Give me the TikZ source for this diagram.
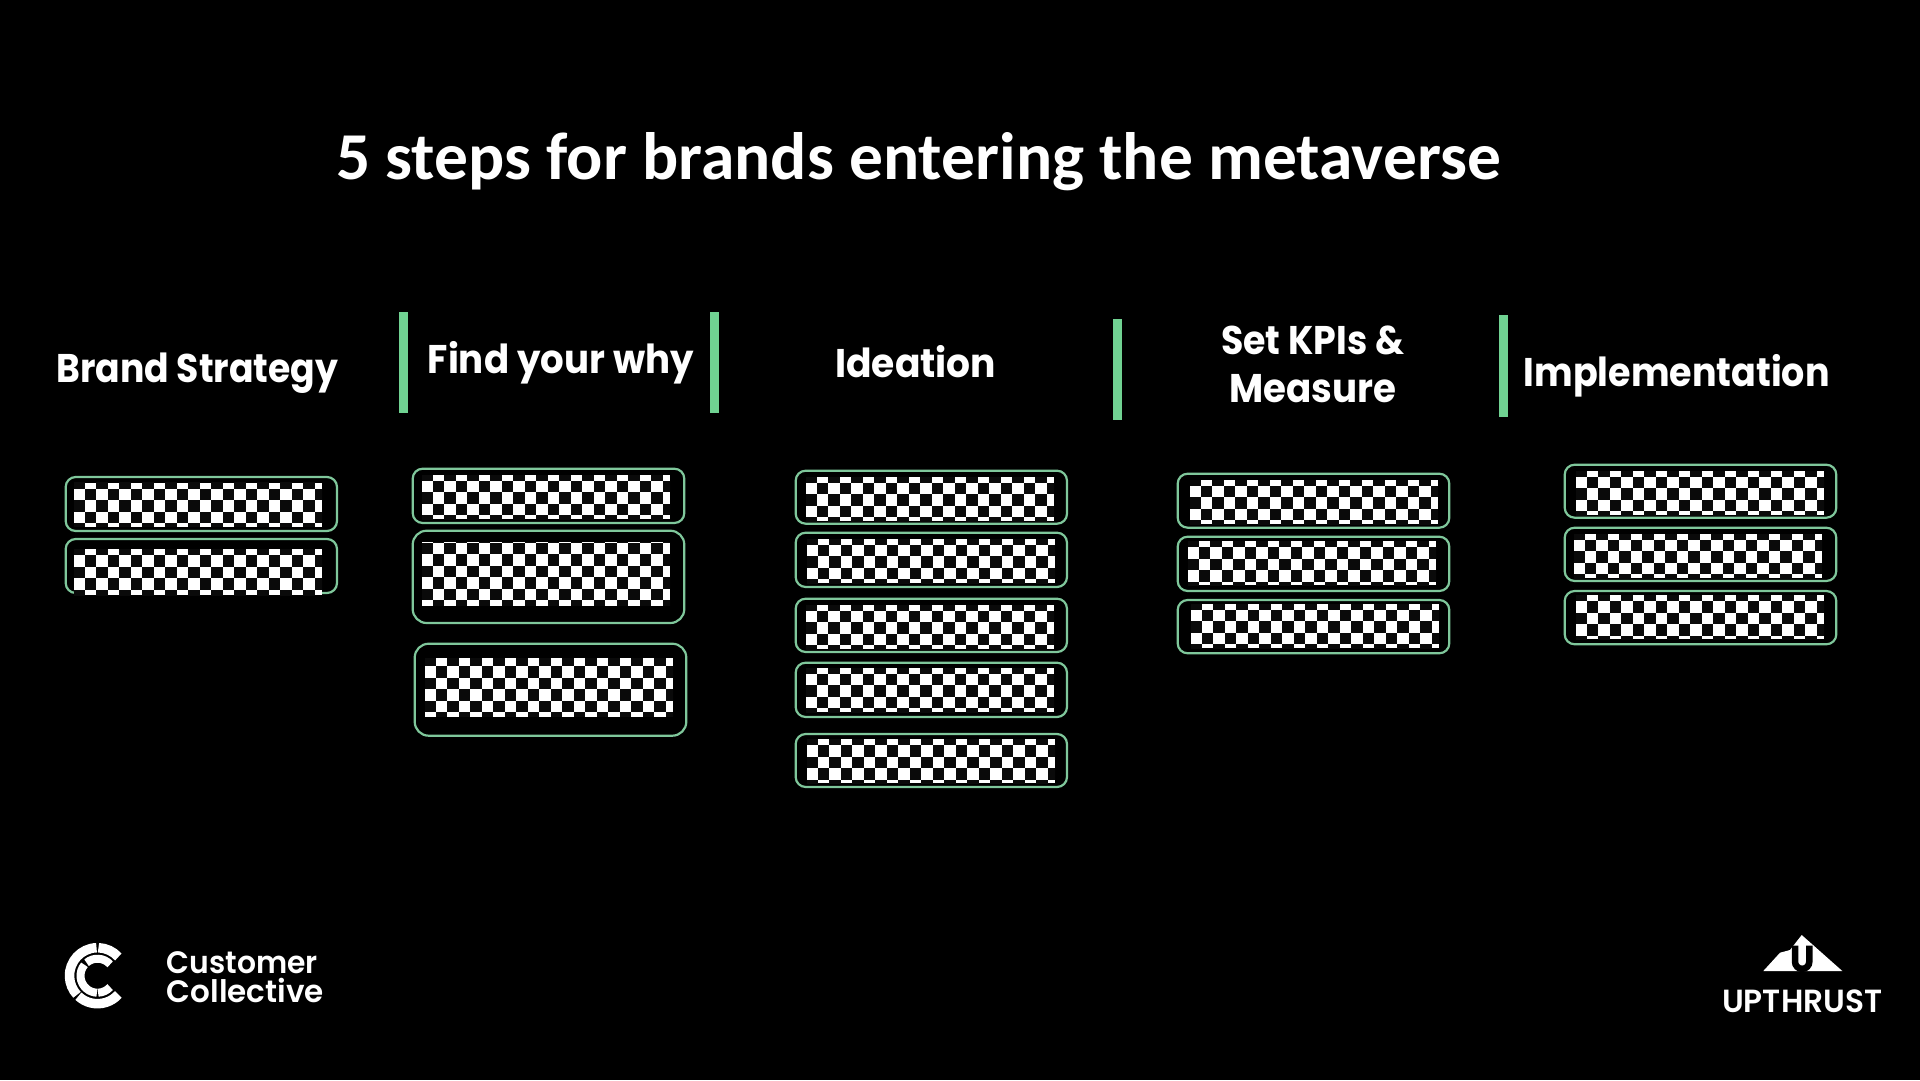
\documentclass[tikz,border=0pt]{standalone}
\usepackage{fontspec}
\usepackage{graphicx}
\newfontfamily\titlefont{Carlito}[BoldFont=Carlito Bold]
\newfontfamily\headfont{Poppins}
\newfontfamily\logofont{Poppins SemiBold}
\definecolor{bgk}{HTML}{000000}
\definecolor{cellk}{HTML}{0A0A0A}
\definecolor{frameg}{HTML}{7FC79B}
\definecolor{barg}{HTML}{70D292}
\tikzset{
  x=1pt,y=-1pt,
  framebox/.style={draw=frameg,line width=2.2pt,rounded corners=10pt},
  framebig/.style={draw=frameg,line width=2.2pt,rounded corners=14pt},
  divider/.style={fill=barg,draw=none},
  headtext/.style={anchor=base west,inner sep=0pt,text=white,font=\headfont\bfseries\fontsize{40}{40}\selectfont},
  logotext/.style={anchor=base west,inner sep=0pt,text=white,font=\logofont\fontsize{31}{31}\selectfont},
  logoarc/.style={draw=white,line cap=butt}
}
\newcommand{\fitw}[2]{\resizebox{#1pt}{\height}{#2}}
% x0 y0 x1 y1 originx originy
\newcommand{\chk}[6]{%
  \begin{scope}
    \clip (#1,#2) rectangle (#3,#4);
    \fill[white] (#1,#2) rectangle (#3,#4);
    \foreach \i in {-2,...,24}{\foreach \j in {-2,...,8}{%
      \pgfmathtruncatemacro{\pr}{mod(\i+\j+40,2)}%
      \ifnum\pr=0
        \fill[cellk] ({#5+11.5*\i},{#6+11.5*\j}) rectangle ({#5+11.5*\i+11.5},{#6+11.5*\j+11.5});
      \fi
    }}
  \end{scope}}
\begin{document}
\begin{tikzpicture}
\fill[bgk] (0,0) rectangle (1920,1080);
\useasboundingbox (0,0) rectangle (1920,1080);
% title
\node[anchor=base west,inner sep=0pt,text=white] (title) at (336,179) {\fitw{1165}{\titlefont\bfseries\fontsize{67}{67}\selectfont 5 steps for brands entering the metaverse}};
% headings
\node[headtext] (h1) at (56,382.7) {\fitw{282}{Brand Strategy}};
\node[headtext] (h2) at (427.5,373) {\fitw{266}{Find your why}};
\node[headtext] (h3) at (835,377.6) {\fitw{161}{Ideation}};
\node[headtext] (h4a) at (1221,354) {\fitw{183}{Set KPIs \&}};
\node[headtext] (h4b) at (1229,402.7) {\fitw{167}{Measure}};
\node[headtext] (h5) at (1523.5,386.7) {\fitw{306}{Implementation}};
% dividers
\fill[divider] (399,311.7) rectangle (408,412.7);
\fill[divider] (710,311.7) rectangle (718.7,412.7);
\fill[divider] (1113,319.3) rectangle (1122,420.3);
\fill[divider] (1499,315.3) rectangle (1508,416.7);
% column 1
\draw[framebox] (65.7,477) rectangle (337,531);
\chk{74}{482.7}{322}{526.7}{84.7}{488.7}
\draw[framebox] (65.7,539) rectangle (337,593);
\chk{74}{549}{322}{595}{84.7}{555}
% column 2
\draw[framebox] (412.7,468.7) rectangle (684.3,523);
\chk{422}{475}{670}{519}{432.7}{480.7}
\draw[framebig] (412.7,530.7) rectangle (684.3,623);
\chk{422}{542.3}{670}{605.7}{432.7}{554.3}
\draw[framebig] (414.7,643.7) rectangle (686.3,735.7);
\chk{425}{658}{673}{716.7}{435.7}{666}
% column 3
\draw[framebox] (795.7,470.7) rectangle (1067,523.7);
\chk{806}{477.3}{1054}{521}{816.7}{482.7}
\draw[framebox] (795.7,532.7) rectangle (1067,587);
\chk{807}{539}{1055}{583}{817.7}{544.7}
\draw[framebox] (795.7,598.7) rectangle (1067,652);
\chk{806}{605}{1054}{649}{816.7}{610.7}
\draw[framebox] (795.7,662.7) rectangle (1067,717);
\chk{806}{668}{1054}{712}{816.7}{673.7}
\draw[framebox] (795.7,734) rectangle (1067,787);
\chk{807}{739}{1055}{783}{817.7}{745}
% column 4
\draw[framebox] (1177.7,473.7) rectangle (1449.3,527.7);
\chk{1190}{480}{1438}{524}{1200.7}{485.7}
\draw[framebox] (1177.7,536.7) rectangle (1449.3,591);
\chk{1188}{541}{1436}{585}{1198.7}{547}
\draw[framebox] (1177.7,600) rectangle (1449.3,653.3);
\chk{1191}{604}{1439}{648}{1201.7}{609.7}
% column 5
\draw[framebox] (1564.7,464.7) rectangle (1836.3,517.7);
\chk{1576}{471}{1824}{515}{1586.7}{476.7}
\draw[framebox] (1564.7,527.7) rectangle (1836.3,581);
\chk{1574}{534}{1822}{578}{1584.7}{539.7}
\draw[framebox] (1564.7,591) rectangle (1836.3,644.3);
\chk{1576}{595}{1824}{639}{1586.7}{601}
% Customer Collective logo
\begin{scope}[shift={(97.5,975.7)},y=1pt]
  \draw[logoarc,line width=9.5pt] (92:28) arc[start angle=92,end angle=223,radius=28];
  \draw[logoarc,line width=9.5pt] (227:28) arc[start angle=227,end angle=318,radius=28];
  \draw[logoarc,line width=9.5pt] (88:28) arc[start angle=88,end angle=42,radius=28];
  \draw[logoarc,line width=8pt] (140:17) arc[start angle=140,end angle=268,radius=17];
  \draw[logoarc,line width=8pt] (272:17) arc[start angle=272,end angle=318,radius=17];
  \draw[logoarc,line width=8pt] (130:17) arc[start angle=130,end angle=42,radius=17];
\end{scope}
\node[logotext] (cc1) at (166.7,973) {\fitw{151}{Customer}};
\node[logotext] (cc2) at (166.7,1002.5) {\fitw{157}{Collective}};
% Upthrust logo
\fill[white] (1801.7,935) -- (1842.3,971) -- (1763.3,971) -- (1780,952.7) -- (1790,950) -- cycle;
\draw[black,line width=6.5pt] (1795,945.7) -- (1795,961.7) arc[start angle=180,end angle=0,radius=7.15] -- (1809.3,945.7);
\node[logotext,font=\logofont\fontsize{32}{32}\selectfont] (up) at (1722,1012.7) {\fitw{160}{UPTHRUST}};
\end{tikzpicture}
\end{document}
